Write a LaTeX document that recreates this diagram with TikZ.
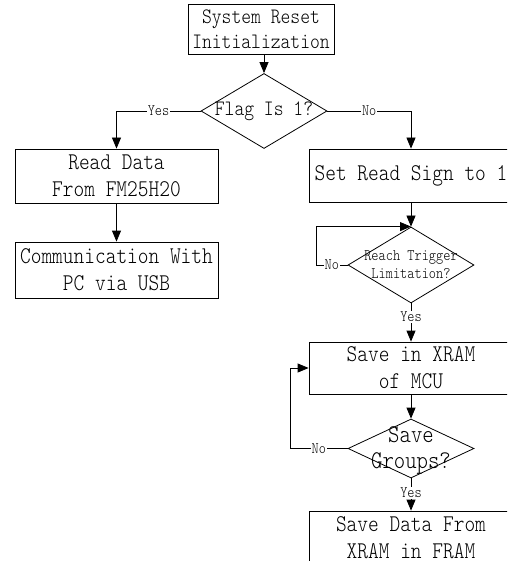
\documentclass[tikz,border=0pt]{standalone}
\usepackage{fontspec}
\usetikzlibrary{shapes.geometric,arrows.meta}
\newfontfamily\simfont[FakeStretch=0.85]{Latin Modern Mono Light}
\begin{document}
\begin{tikzpicture}[x=1pt,y=-1pt,
  box/.style={draw,line width=0.8pt,inner sep=0pt,align=center},
  dia/.style={draw,line width=0.8pt,diamond,inner sep=0pt},
  txt/.style={inner sep=0pt,align=center},
  big/.style={font=\simfont\fontsize{24}{27}\selectfont},
  mid/.style={font=\simfont\fontsize{22}{25}\selectfont},
  lab/.style={font=\simfont\fontsize{16}{16}\selectfont,fill=white,inner sep=1pt},
  conn/.style={line width=0.8pt},
  arr/.style={conn,-{Triangle[length=11pt,width=9pt]}}]
\useasboundingbox (0,0) rectangle (507,561);
\clip (0,0) rectangle (507,561);
\fill[white] (0,0) rectangle (507,561);
% nodes
\node[box,mid,minimum width=146pt,minimum height=50pt] (top) at (261,29) {System Reset\\Initialization};
\node[dia,minimum width=126pt,minimum height=75pt] (d1) at (264,111) {};
\node[txt,mid] (d1t) at (d1) {Flag Is 1?};
\node[box,big,minimum width=203pt,minimum height=54pt] (rd) at (116.5,176) {Read Data\\From FM25H20};
\node[box,big,minimum width=203pt,minimum height=56pt] (pc) at (116.5,270) {Communication With\\PC via USB};
\node[box,big,minimum width=204pt,minimum height=53pt] (sr) at (411,175.5) {Set Read Sign to 1};
\node[dia,minimum width=126pt,minimum height=76pt] (rt) at (411,265) {};
\node[txt,font=\simfont\fontsize{16.1}{18}\selectfont] (rtt) at (rt) {Reach Trigger\\Limitation?};
\node[box,big,minimum width=204pt,minimum height=52pt] (sx) at (411,368) {Save in XRAM\\of MCU};
\node[dia,minimum width=126pt,minimum height=59pt] (sg) at (411,448.5) {};
\node[txt,font=\simfont\fontsize{25.5}{26}\selectfont] (sgt) at (411,450) {Save\\Groups?};
\node[box,big,minimum width=204pt,minimum height=54pt] (sd) at (411,538) {Save Data From\\XRAM in FRAM};
\coordinate (l1) at (316,265);
\coordinate (l2) at (290,448.5);
% connectors
\draw[arr] (top.south -| d1.north) -- (d1.north);
\draw[arr] (d1.west) -| node[lab,pos=0.25] {Yes} (rd.north);
\draw[arr] (rd) -- (pc);
\draw[arr] (d1.east) -| node[lab,pos=0.25] {No} (sr.north);
\draw[arr] (sr) -- (rt);
\draw[arr] (rt.west) -- node[lab] {No} (l1) |- (rt.north);
\draw[arr] (rt.south) -- node[lab,pos=0.35] {Yes} (sx.north);
\draw[arr] (sx) -- (sg);
\draw[arr] (sg.west) -- node[lab] {No} (l2) |- (sx.west);
\draw[arr] (sg.south) -- node[lab,pos=0.45] {Yes} (sd.north);
\end{tikzpicture}
\end{document}
